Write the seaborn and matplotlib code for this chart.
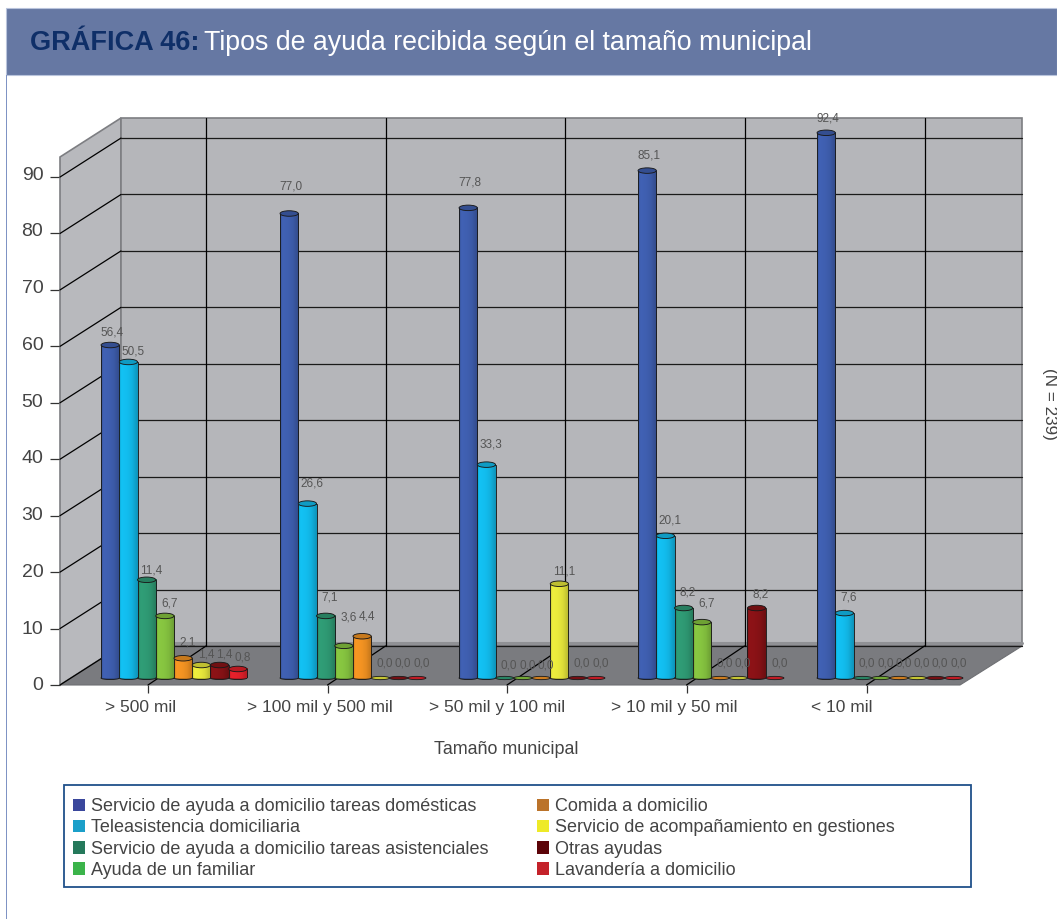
import numpy as np
import pandas as pd
import matplotlib
matplotlib.use("Agg")
import matplotlib.pyplot as plt
from matplotlib.patches import Ellipse, Patch, Polygon, Rectangle
from matplotlib.transforms import ScaledTranslation
import seaborn as sns

# ---- data ----
categories = ["> 500 mil", "> 100 mil y 500 mil", "> 50 mil y 100 mil", "> 10 mil y 50 mil", "< 10 mil"]
series_names = ["Servicio de ayuda a domicilio tareas domésticas", "Teleasistencia domiciliaria",
                "Servicio de ayuda a domicilio tareas asistenciales", "Ayuda de un familiar",
                "Comida a domicilio", "Servicio de acompañamiento en gestiones", "Otras ayudas",
                "Lavandería a domicilio"]
# bar heights as drawn in the picture, read against the axis
domesticas = [59.0, 82.3, 83.3, 89.9, 96.6]
teleasistencia = [56.0, 30.9, 37.8, 25.2, 11.5]
asistenciales = [17.4, 11.0, 0.0, 12.4, 0.0]
familiar = [11.0, 5.7, 0.0, 9.9, 0.0]
comida = [3.5, 7.4, 0.0, 0.0, 0.0]
acompanamiento = [2.3, 0.0, 16.7, 0.0, 0.0]
otras = [2.3, 0.0, 0.0, 12.4, 0.0]
lavanderia = [1.6, 0.0, 0.0, 0.0, 0.0]
series_values = [domesticas, teleasistencia, asistenciales, familiar, comida, acompanamiento, otras, lavanderia]
# value labels printed on the picture
lab_domesticas = ["56,4", "77,0", "77,8", "85,1", "92,4"]
lab_teleasistencia = ["50,5", "26,6", "33,3", "20,1", "7,6"]
lab_asistenciales = ["11,4", "7,1", "0,0", "8,2", "0,0"]
lab_familiar = ["6,7", "3,6", "0,0", "6,7", "0,0"]
lab_comida = ["2,1", "4,4", "0,0", "0,0", "0,0"]
lab_acompanamiento = ["1,4", "0,0", "11,1", "0,0", "0,0"]
lab_otras = ["1,4", "0,0", "0,0", "8,2", "0,0"]
lab_lavanderia = ["0,8", "0,0", "0,0", "0,0", "0,0"]
series_labels = [lab_domesticas, lab_teleasistencia, lab_asistenciales, lab_familiar, lab_comida,
                 lab_acompanamiento, lab_otras, lab_lavanderia]
y_ticks = [0, 10, 20, 30, 40, 50, 60, 70, 80, 90]

# ---- styles ----
bar_colors = ["#3f5fb0", "#12bdee", "#2f9a74", "#86c440", "#f39322", "#e9e93c", "#8a1216", "#e2202a"]
legend_colors = ["#3a479c", "#1b9fc9", "#25795b", "#3bb44a", "#bb732a", "#eeea28", "#5c0308", "#c4222a"]
label_dy = [[13, 27, 25, 15, 14], [10, 20, 20, 15, 16], [9, 18, 13, 16, 14], [12, 28, 13, 19, 14],
            [16, 20, 13, 14, 14], [11, 14, 12, 14, 14], [11, 14, 14, 14, 14], [11, 14, 14, 14, 14]]
label_dx = [1.5, 3.2, 3.2, 3.2, 3.2, 3.2, 3.2, 3.2]

W, H = 1057, 919
DPI = 100
sns.set_theme(style="white")
plt.rcParams["font.family"] = ["Liberation Sans", "DejaVu Sans"]
TXT = "#444444"

fig = plt.figure(figsize=(W / DPI, H / DPI), dpi=DPI, facecolor="white")


def fx(x):
    return x / W


def fy(y):
    return 1 - y / H


def add_rect(x0, y0, x1, y1, **kw):
    fig.add_artist(Rectangle((fx(x0), fy(y1)), (x1 - x0) / W, (y1 - y0) / H, transform=fig.transFigure, **kw))


def axes_px(x0, y0, x1, y1):
    return fig.add_axes([fx(x0), fy(y1), (x1 - x0) / W, (y1 - y0) / H])


# page decoration
add_rect(6, 8, W, 75, facecolor="#6678a3", edgecolor="#b9c4dc", linewidth=0.8)
add_rect(5.5, 75, 6.7, H, facecolor="#7f93c4", edgecolor="none")
fig.text(fx(30), fy(43), "GRÁFICA 46:", fontsize=19.5, fontweight="bold", color="#0f2f68", va="center")
fig.text(fx(204), fy(43), "Tipos de ayuda recibida según el tamaño municipal", fontsize=19.3, color="white", va="center")
fig.text(fx(1049), fy(404), "(N = 239)", fontsize=12.3, color=TXT, rotation=270, ha="center", va="center")

# ---- frame axes: the front plane of the box, with the numeric scale ----
PX_PER_UNIT = 5.644
ax = axes_px(60, 157, 960, 685)
ax.set_xlim(60, 960)
ax.set_ylim(0, 528 / PX_PER_UNIT)
ax.patch.set_alpha(0)
for s in ax.spines.values():
    s.set_visible(False)
DX, DV = 61, 39 / PX_PER_UNIT
top_v = 528 / PX_PER_UNIT
BACK_L, BACK_R = 60 + DX, 960 + 62
GREY = "#7d7e82"
ax.add_patch(Polygon([(60, 0), (60, top_v), (BACK_L, top_v + DV), (BACK_L, DV)], closed=True, clip_on=False,
                     facecolor="#b8b9bd", edgecolor=GREY, linewidth=1.2, zorder=1))
ax.add_patch(Polygon([(BACK_L, DV), (BACK_L, top_v + DV), (BACK_R, top_v + DV), (BACK_R, DV)], closed=True,
                     clip_on=False, facecolor="#b5b6ba", edgecolor=GREY, linewidth=1.2, zorder=1))
ax.plot([BACK_L, BACK_R], [DV + 0.45, DV + 0.45], color="#909195", lw=2.2, clip_on=False, zorder=1.5)
ax.add_patch(Polygon([(60, 0), (BACK_L, DV), (BACK_R, DV), (960, 0)], closed=True, clip_on=False,
                     facecolor="#7a7b7f", edgecolor="#6f7074", linewidth=0.8, zorder=2))
for v in y_ticks:
    ax.plot([60, BACK_L], [v, v + DV], color="black", lw=0.9, clip_on=False, zorder=3)
    ax.plot([BACK_L, BACK_R], [v + DV, v + DV], color="#1a1a1a", lw=0.9, clip_on=False, zorder=3)
front_ticks = [148, 327.5, 507, 686.5, 866.5]
label_centres = [141, 320, 497, 674, 842]
for x in front_ticks:
    ax.plot([x, x + 58], [0, DV], color="black", lw=0.9, clip_on=False, zorder=3)
    ax.plot([x + 58, x + 58], [DV, top_v + DV], color="black", lw=0.9, clip_on=False, zorder=3)
ax.set_yticks(y_ticks)
ax.tick_params(axis="y", left=True, length=7, width=0.9, color="#333333", labelsize=14, labelcolor=TXT, pad=5)
# the printed numbers drift slightly above their ticks towards the top of the scale
for lab, v in zip(ax.get_yticklabels(), y_ticks):
    lift = ScaledTranslation(0, (1 + 3 * v / 90) / DPI, fig.dpi_scale_trans)
    lab.set_transform(lab.get_transform() + lift)
ax.set_xticks(front_ticks)
ax.set_xticklabels([])
ax.tick_params(axis="x", which="major", bottom=True, length=5.8, width=0.9, color="#333333")
ax.set_xticks(label_centres, minor=True)
ax.set_xticklabels(categories, minor=True)
ax.tick_params(axis="x", which="minor", bottom=False, length=0, labelsize=12.5, labelcolor=TXT, pad=10.5)
fig.text(fx(506), fy(750), "Tamaño municipal", fontsize=12.9, color=TXT, ha="center", va="center")

# ---- bars axes: seaborn bars standing on the floor ----
BASE_PX = 678
CENTRE0, PITCH = 174, 179
ax_b = axes_px(CENTRE0 - PITCH / 2, BASE_PX - 100 * PX_PER_UNIT, CENTRE0 + 4.5 * PITCH, BASE_PX)
ax_b.patch.set_alpha(0)
df = pd.DataFrame({
    "tamano": np.tile(categories, len(series_names)),
    "tipo": np.repeat(series_names, len(categories)),
    "valor": np.concatenate(series_values),
})
sns.barplot(data=df, x="tamano", y="valor", hue="tipo", order=categories, hue_order=series_names,
            palette=bar_colors, saturation=1, width=0.815, gap=0, errorbar=None, legend=False, ax=ax_b,
            edgecolor="#1a1a1a", linewidth=0.65)
ax_b.set_xlim(-0.5, 4.5)
ax_b.set_ylim(0, 100)
ax_b.axis("off")

prof_t = np.linspace(0, 1, 40)
prof = np.interp(prof_t, [0, 0.12, 0.45, 0.7, 1], [0.85, 1.03, 1.0, 0.94, 0.78])
ELL_H = 5.5 / PX_PER_UNIT
z = 5
for s, cont in enumerate(ax_b.containers):
    rgb = np.array(matplotlib.colors.to_rgb(bar_colors[s]))
    grad = np.clip(prof[None, :, None] * rgb[None, None, :], 0, 1)
    for g, bar in enumerate(cont.patches):
        x0, w, h = bar.get_x(), bar.get_width(), bar.get_height()
        xc = x0 + w / 2
        if h > 0:
            ax_b.add_patch(Ellipse((xc, 0), w, ELL_H * 0.55, facecolor=rgb * 0.8, edgecolor="#1a1a1a", lw=0.65,
                                   clip_on=False, zorder=z))
            ax_b.imshow(grad, extent=(x0, x0 + w, 0, h), aspect="auto", zorder=z + 0.2, interpolation="bilinear")
            bar.set_facecolor("none")
            bar.set_zorder(z + 0.3)
            ax_b.add_patch(Ellipse((xc, h), w, ELL_H, facecolor=rgb * 0.82, edgecolor="#1a1a1a", lw=0.65,
                                   clip_on=False, zorder=z + 0.4))
        else:
            bar.set_visible(False)
            ax_b.add_patch(Ellipse((xc, 0), w, ELL_H * 0.6, facecolor=rgb * 0.85, edgecolor="#1a1a1a", lw=0.6,
                                   clip_on=False, zorder=z + 0.4))
        z += 1
        ax_b.annotate(series_labels[s][g], (xc, h), xytext=(label_dx[s], label_dy[s][g] * 0.72),
                      textcoords="offset points", ha="center", va="center", fontsize=8.5, color="#555555",
                      zorder=500, annotation_clip=False)
ax_b.set_xlim(-0.5, 4.5)
ax_b.set_ylim(0, 100)

# ---- legend ----
add_rect(64, 785, 971, 887, facecolor="none", edgecolor="#20508a", linewidth=1.3)
handles = [Patch(facecolor=c, edgecolor="none") for c in legend_colors]
fig.legend(handles, series_names, ncols=2, loc="upper left", bbox_to_anchor=(fx(73), fy(798)), borderaxespad=0,
           borderpad=0, frameon=False, fontsize=12.95, labelcolor=TXT, handlelength=0.68, handleheight=0.68,
           handletextpad=0.34, labelspacing=0.24, columnspacing=2.68)

fig.savefig("out.png", dpi=DPI, facecolor="white")
